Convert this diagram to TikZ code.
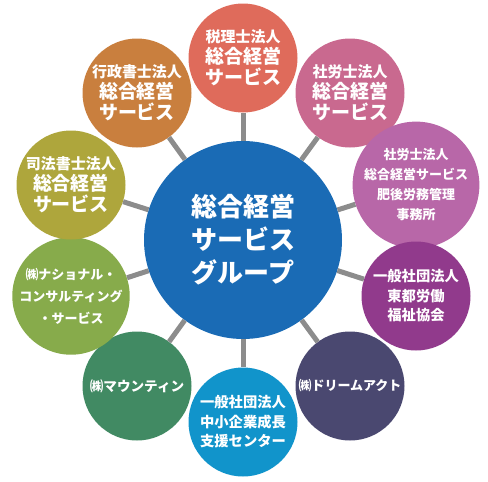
\documentclass[tikz,border=0pt]{standalone}
\usepackage{fontspec}
\setmainfont{Noto Sans CJK JP}
\begin{document}
\begin{tikzpicture}[x=1pt,y=-1pt,
  bub/.style={circle,inner sep=0pt,minimum size=109pt,text=white,align=center},
  hub/.style={circle,inner sep=0pt,minimum size=198pt,fill=cBlue,text=white,align=center,font={\bfseries\fontsize{26}{33}\selectfont}},
  big/.style={font={\bfseries\fontsize{19}{21}\selectfont}},
  small/.style={font={\bfseries\fontsize{13}{20}\selectfont}},
  mid/.style={font={\bfseries\fontsize{14.3}{19.5}\selectfont}},
  conn/.style={draw=cGray,line width=5pt}]
\definecolor{cBlue}{HTML}{1A6BB5}
\definecolor{cGray}{HTML}{8C8C8C}
\definecolor{cA}{HTML}{DF6B5B}
\definecolor{cB}{HTML}{C9698F}
\definecolor{cC}{HTML}{B867A8}
\definecolor{cD}{HTML}{913A8C}
\definecolor{cE}{HTML}{4A4870}
\definecolor{cF}{HTML}{1194CB}
\definecolor{cG}{HTML}{418A63}
\definecolor{cH}{HTML}{87AB4B}
\definecolor{cI}{HTML}{AEA63C}
\definecolor{cJ}{HTML}{C97F3E}
\useasboundingbox (0,0) rectangle (488,482);
\newcommand{\fa}{\fontsize{15}{21}\selectfont}
\node[hub] (hub) at (243,240) {総合経営\\サービス\\グループ};
\node[bub,big,fill=cA] (n1) at (243,58) {{\fa 税理士法人}\\総合経営\\サービス};
\node[bub,big,fill=cB] (n2) at (350,93) {{\fa 社労士法人}\\総合経営\\サービス};
\node[bub,small,fill=cC] (n3) at (416,185) {社労士法人\\総合経営サービス\\肥後労務管理\\事務所};
\node[bub,mid,fill=cD] (n4) at (416,296) {一般社団法人\\東都労働\\福祉協会};
\node[bub,small,fill=cE] (n5) at (350,386) {㈱ドリームアクト};
\node[bub,mid,fill=cF] (n6) at (243,422) {一般社団法人\\中小企業成長\\支援センター};
\node[bub,font={\bfseries\fontsize{13.6}{20}\selectfont},fill=cG] (n7) at (137,386) {㈱マウンティン};
\node[bub,font={\bfseries\fontsize{13}{22}\selectfont},fill=cH] (n8) at (71,296) {㈱ナショナル・\\コンサルティング\\・サービス};
\node[bub,big,fill=cI] (n9) at (71,185) {{\fa 司法書士法人}\\総合経営\\サービス};
\node[bub,big,fill=cJ] (n10) at (137,93) {{\fa 行政書士法人}\\総合経営\\サービス};
\foreach \i in {1,...,10} {\draw[conn] (hub) -- (n\i);}
\end{tikzpicture}
\end{document}
